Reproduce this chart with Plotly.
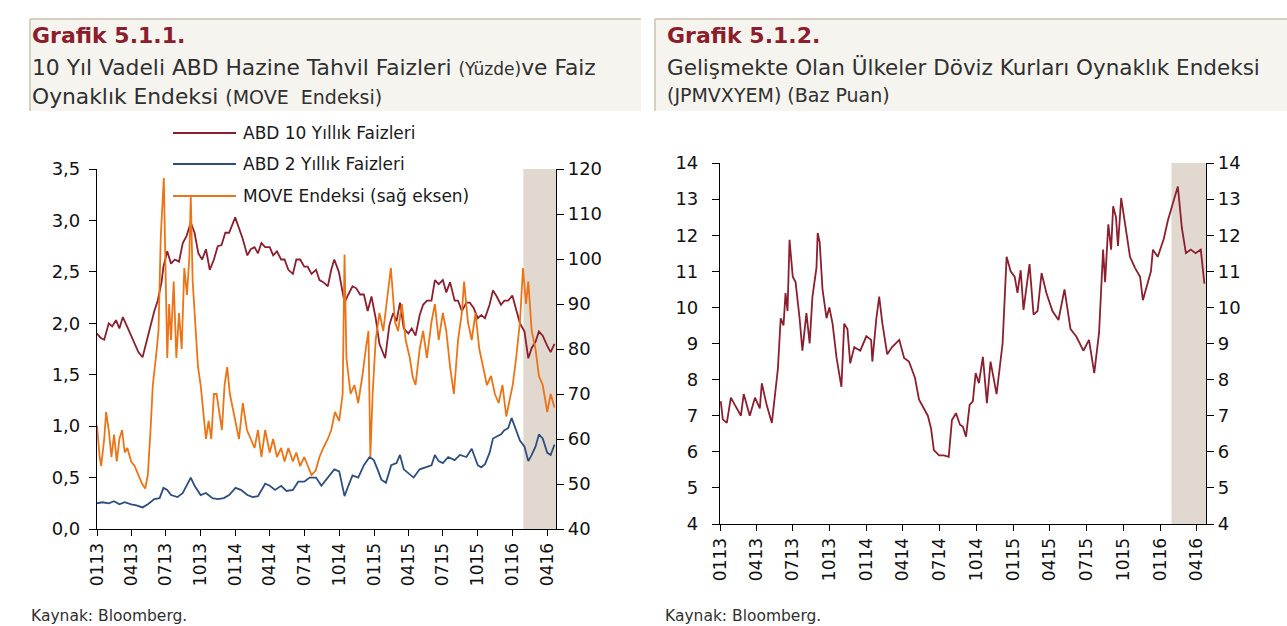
import plotly.graph_objects as go

# ---------------- DATA ----------------
dates_10y = ["2013-01-01","2013-01-10","2013-01-20","2013-02-01","2013-02-10","2013-02-20","2013-03-01","2013-03-10","2013-03-20",
             "2013-04-01","2013-04-10","2013-04-20","2013-05-01","2013-05-10","2013-05-20","2013-06-01","2013-06-10","2013-06-20",
             "2013-06-25","2013-07-05","2013-07-15","2013-07-25","2013-08-05","2013-08-15","2013-08-25","2013-09-05","2013-09-15",
             "2013-09-25","2013-10-05","2013-10-15","2013-10-25","2013-11-05","2013-11-15","2013-11-25","2013-12-05","2013-12-15",
             "2013-12-31","2014-01-10","2014-01-20","2014-02-01","2014-02-10","2014-02-20","2014-03-01","2014-03-10","2014-03-20",
             "2014-04-01","2014-04-10","2014-04-20","2014-05-01","2014-05-10","2014-05-20","2014-06-01","2014-06-10","2014-06-20",
             "2014-07-01","2014-07-10","2014-07-20","2014-08-01","2014-08-10","2014-08-20","2014-09-01","2014-09-10","2014-09-18",
             "2014-09-30","2014-10-10","2014-10-15","2014-10-25","2014-11-05","2014-11-15","2014-11-25","2014-12-05","2014-12-15",
             "2014-12-25","2015-01-05","2015-01-15","2015-01-30","2015-02-10","2015-02-20","2015-03-01","2015-03-10","2015-03-20",
             "2015-04-01","2015-04-10","2015-04-20","2015-05-01","2015-05-10","2015-05-20","2015-06-01","2015-06-10","2015-06-20",
             "2015-07-01","2015-07-10","2015-07-20","2015-08-01","2015-08-10","2015-08-20","2015-09-01","2015-09-10","2015-09-20",
             "2015-10-01","2015-10-10","2015-10-20","2015-11-01","2015-11-10","2015-11-20","2015-12-01","2015-12-10","2015-12-20",
             "2015-12-31","2016-01-10","2016-01-20","2016-02-01","2016-02-11","2016-02-20","2016-03-01","2016-03-10","2016-03-20",
             "2016-04-01","2016-04-10","2016-04-20"]
us10y = [1.90,1.86,1.84,2.00,1.97,2.03,1.95,2.06,1.98,
         1.88,1.80,1.72,1.67,1.80,1.95,2.12,2.22,2.40,
         2.55,2.70,2.58,2.62,2.60,2.78,2.85,2.98,2.88,
         2.68,2.62,2.72,2.52,2.62,2.75,2.76,2.88,2.88,
         3.03,2.92,2.82,2.66,2.72,2.74,2.68,2.78,2.74,
         2.74,2.66,2.70,2.62,2.62,2.52,2.48,2.62,2.62,
         2.55,2.55,2.48,2.52,2.42,2.40,2.36,2.52,2.62,
         2.50,2.32,2.20,2.28,2.36,2.34,2.28,2.28,2.12,
         2.26,2.05,1.80,1.66,1.98,2.10,2.02,2.20,1.95,
         1.90,1.95,1.88,2.08,2.18,2.22,2.22,2.42,2.38,
         2.42,2.30,2.40,2.22,2.22,2.12,2.20,2.20,2.15,
         2.05,2.08,2.05,2.18,2.32,2.26,2.18,2.22,2.22,
         2.27,2.12,2.00,1.92,1.66,1.76,1.82,1.92,1.88,
         1.78,1.72,1.80]

dates_2y = ["2013-01-01","2013-01-15","2013-02-01","2013-02-15","2013-03-01","2013-03-15","2013-04-01","2013-04-15","2013-05-01",
            "2013-05-15","2013-06-01","2013-06-15","2013-06-25","2013-07-05","2013-07-15","2013-08-01","2013-08-15","2013-09-05",
            "2013-09-15","2013-10-01","2013-10-15","2013-11-01","2013-11-15","2013-12-01","2013-12-15","2014-01-01","2014-01-15",
            "2014-02-01","2014-02-15","2014-03-01","2014-03-20","2014-04-01","2014-04-15","2014-05-01","2014-05-15","2014-06-01",
            "2014-06-15","2014-07-01","2014-07-15","2014-08-01","2014-08-15","2014-09-01","2014-09-18","2014-10-01","2014-10-15",
            "2014-10-25","2014-11-05","2014-11-20","2014-12-05","2014-12-20","2014-12-31","2015-01-10","2015-01-20","2015-02-01",
            "2015-02-15","2015-03-01","2015-03-10","2015-03-20","2015-04-01","2015-04-15","2015-05-01","2015-05-15","2015-06-01",
            "2015-06-10","2015-06-20","2015-07-01","2015-07-15","2015-08-01","2015-08-15","2015-09-01","2015-09-15","2015-10-01",
            "2015-10-10","2015-10-20","2015-11-01","2015-11-10","2015-11-20","2015-12-01","2015-12-10","2015-12-20","2015-12-29",
            "2016-01-10","2016-01-20","2016-02-01","2016-02-11","2016-02-20","2016-03-01","2016-03-10","2016-03-20","2016-04-01",
            "2016-04-10","2016-04-20"]
us2y = [0.25,0.26,0.25,0.27,0.24,0.26,0.24,0.23,0.21,
        0.24,0.29,0.30,0.40,0.38,0.33,0.31,0.35,0.50,
        0.42,0.33,0.35,0.30,0.29,0.30,0.33,0.40,0.38,
        0.33,0.31,0.32,0.44,0.42,0.38,0.42,0.37,0.38,
        0.46,0.46,0.50,0.50,0.42,0.50,0.58,0.56,0.32,
        0.42,0.52,0.50,0.62,0.70,0.67,0.58,0.48,0.45,
        0.62,0.64,0.72,0.58,0.54,0.50,0.58,0.60,0.62,
        0.72,0.66,0.64,0.70,0.67,0.72,0.70,0.78,0.62,
        0.60,0.63,0.74,0.88,0.90,0.92,0.96,0.98,1.08,
        0.95,0.86,0.80,0.66,0.72,0.80,0.92,0.88,0.74,
        0.72,0.82]

dates_move = ["2013-01-01","2013-01-08","2013-01-12","2013-01-20","2013-01-25","2013-02-01","2013-02-08","2013-02-15","2013-02-22",
              "2013-03-01","2013-03-08","2013-03-15","2013-03-22","2013-04-01","2013-04-10","2013-04-20","2013-04-30","2013-05-08",
              "2013-05-15","2013-05-22","2013-05-28","2013-06-05","2013-06-12","2013-06-18","2013-06-22","2013-06-26","2013-06-30",
              "2013-07-05","2013-07-10","2013-07-15","2013-07-22","2013-07-29","2013-08-05","2013-08-12","2013-08-19","2013-08-26",
              "2013-09-01","2013-09-05","2013-09-10","2013-09-17","2013-09-24","2013-10-01","2013-10-08","2013-10-15","2013-10-22",
              "2013-10-29","2013-11-05","2013-11-12","2013-11-19","2013-11-26","2013-12-03","2013-12-10","2013-12-17","2013-12-24",
              "2014-01-01","2014-01-10","2014-01-20","2014-01-31","2014-02-10","2014-02-20","2014-03-01","2014-03-10","2014-03-20",
              "2014-04-01","2014-04-10","2014-04-20","2014-05-01","2014-05-10","2014-05-20","2014-06-01","2014-06-10","2014-06-20",
              "2014-07-01","2014-07-10","2014-07-20","2014-07-31","2014-08-10","2014-08-20","2014-09-01","2014-09-10","2014-09-20",
              "2014-10-01","2014-10-10","2014-10-15","2014-10-20","2014-10-31","2014-11-10","2014-11-20","2014-12-01","2014-12-10",
              "2014-12-17","2014-12-22","2014-12-28","2015-01-05","2015-01-15","2015-01-25","2015-02-05","2015-02-14","2015-02-25",
              "2015-03-05","2015-03-15","2015-03-25","2015-04-05","2015-04-12","2015-04-20","2015-05-01","2015-05-10","2015-05-20",
              "2015-06-01","2015-06-10","2015-06-20","2015-07-01","2015-07-10","2015-07-20","2015-07-30","2015-08-10","2015-08-20",
              "2015-08-26","2015-09-05","2015-09-15","2015-09-25","2015-10-05","2015-10-15","2015-10-25","2015-11-05","2015-11-15",
              "2015-11-25","2015-12-05","2015-12-15","2015-12-22","2016-01-01","2016-01-10","2016-01-20","2016-01-28","2016-02-05",
              "2016-02-11","2016-02-20","2016-03-01","2016-03-10","2016-03-20","2016-04-01","2016-04-10","2016-04-20"]
move = [63,56,54,60,66,62,56,61,55,
        60,62,57,58,55,54,52,50,49,
        52,62,72,78,84,105,111,118,100,
        78,90,82,95,78,88,80,98,92,
        100,114,95,85,76,72,66,60,64,
        60,70,70,66,62,72,76,70,67,
        64,60,68,62,60,58,62,56,62,
        57,60,56,58,55,58,55,57,54,
        56,54,52,53,56,58,60,62,66,
        64,70,101,78,70,72,68,74,80,
        84,56,70,82,88,84,92,98,86,
        84,90,82,78,74,72,80,84,78,
        86,90,82,88,84,76,70,82,88,
        95,86,82,88,80,76,72,74,70,
        68,72,65,68,72,78,86,98,90,
        95,84,80,74,72,66,70,67]

dates_em = ["2013-01-03","2013-01-08","2013-01-18","2013-01-28","2013-02-07","2013-02-22","2013-03-01","2013-03-16","2013-03-29",
            "2013-04-10","2013-04-15","2013-04-27","2013-05-10","2013-05-20","2013-05-25","2013-06-01","2013-06-08","2013-06-13",
            "2013-06-18","2013-06-23","2013-07-01","2013-07-08","2013-07-18","2013-07-25","2013-08-04","2013-08-12","2013-08-19",
            "2013-08-29","2013-09-01","2013-09-06","2013-09-13","2013-09-23","2013-09-30","2013-10-08","2013-10-18","2013-10-30",
            "2013-11-06","2013-11-14","2013-11-21","2013-12-01","2013-12-16","2013-12-31","2014-01-12","2014-01-15","2014-01-25",
            "2014-02-01","2014-02-09","2014-02-21","2014-03-05","2014-03-23","2014-04-04","2014-04-16","2014-05-01","2014-05-11",
            "2014-05-21","2014-06-02","2014-06-10","2014-06-17","2014-06-30","2014-07-12","2014-07-24","2014-08-01","2014-08-11",
            "2014-08-21","2014-08-28","2014-09-05","2014-09-14","2014-09-22","2014-09-29","2014-10-07","2014-10-17","2014-10-27",
            "2014-11-05","2014-11-20","2014-12-05","2014-12-15","2014-12-25","2015-01-04","2015-01-11","2015-01-19","2015-01-26",
            "2015-02-10","2015-02-20","2015-03-02","2015-03-12","2015-03-24","2015-04-08","2015-04-23","2015-05-08","2015-05-23",
            "2015-06-06","2015-06-24","2015-07-08","2015-07-21","2015-08-02","2015-08-12","2015-08-17","2015-08-25","2015-09-01",
            "2015-09-06","2015-09-13","2015-09-18","2015-09-26","2015-10-06","2015-10-18","2015-10-30","2015-11-12","2015-11-19",
            "2015-11-29","2015-12-09","2015-12-14","2015-12-26","2016-01-10","2016-01-20","2016-02-02","2016-02-14","2016-02-24",
            "2016-03-05","2016-03-17","2016-03-29","2016-04-11","2016-04-20"]
jpmvxyem = [7.4,6.9,6.8,7.5,7.3,7.0,7.6,7.0,7.5,
            7.2,7.9,7.3,6.8,7.9,8.3,9.7,9.5,10.4,
            9.9,11.87,10.85,10.7,9.7,8.8,9.84,9.0,10.3,
            11.1,12.06,11.8,10.5,9.7,10.0,9.55,8.6,7.8,
            9.55,9.4,8.45,8.9,8.8,9.2,9.1,8.5,9.7,
            10.3,9.55,8.7,8.9,9.1,8.6,8.5,8.05,7.45,
            7.25,7.0,6.65,6.05,5.9,5.9,5.86,6.88,7.07,
            6.75,6.7,6.42,7.3,7.4,8.18,7.9,8.63,7.35,
            8.5,7.6,9.0,11.4,11.0,10.85,10.4,11.03,9.93,
            11.2,9.8,9.9,10.95,10.4,9.9,9.65,10.5,9.4,
            9.2,8.8,9.1,8.18,9.3,11.6,10.7,12.3,11.6,
            12.8,12.5,11.7,13.03,12.25,11.4,11.1,10.85,10.2,
            10.6,11.0,11.6,11.4,11.9,12.4,12.9,13.35,12.2,
            11.5,11.6,11.5,11.6,10.66]

tick_vals = ["2013-01-01","2013-04-01","2013-07-01","2013-10-01","2014-01-01","2014-04-01","2014-07-01",
             "2014-10-01","2015-01-01","2015-04-01","2015-07-01","2015-10-01","2016-01-01","2016-04-01"]
tick_text = ["0113","0413","0713","1013","0114","0414","0714","1014","0115","0415","0715","1015","0116","0416"]
x_range = ["2013-01-01", "2016-04-24"]
band = ["2016-01-29", "2016-04-24"]

legend_names = ["ABD 10 Yıllık Faizleri", "ABD 2 Yıllık Faizleri", "MOVE Endeksi (sağ eksen)"]

# ---------------- STYLE ----------------
W, H = 1287, 626
C10 = "#8C1F2E"
C2 = "#2D4E7E"
CMOVE = "#EC7417"
CEM = "#8C1F2E"
BAND = "#E1D9CF"
HEAD = "#F6F4EF"
TITLE = "#8C1D2B"
TXT = "#303030"
TICK = "#111111"
FONT = "DejaVu Sans"


def px(x):
    return x / W


def py(y):
    return 1 - y / H


fig = go.Figure()
fig.add_trace(go.Scatter(x=dates_10y, y=us10y, mode="lines", line=dict(color=C10, width=1.8),
                         name=legend_names[0], xaxis="x", yaxis="y", showlegend=False))
fig.add_trace(go.Scatter(x=dates_2y, y=us2y, mode="lines", line=dict(color=C2, width=1.8),
                         name=legend_names[1], xaxis="x", yaxis="y", showlegend=False))
fig.add_trace(go.Scatter(x=dates_move, y=move, mode="lines", line=dict(color=CMOVE, width=1.8),
                         name=legend_names[2], xaxis="x", yaxis="y2", showlegend=False))
fig.add_trace(go.Scatter(x=dates_em, y=jpmvxyem, mode="lines", line=dict(color=CEM, width=1.8),
                         name="JPMVXYEM", xaxis="x2", yaxis="y3", showlegend=False))
fig.add_trace(go.Scatter(x=dates_em, y=jpmvxyem, mode="lines", line=dict(color=CEM, width=0),
                         opacity=0, hoverinfo="skip", xaxis="x2", yaxis="y4", showlegend=False))

xfont = dict(family=FONT, size=17, color=TICK)
yfont = dict(family=FONT, size=18, color=TICK)
common_x = dict(type="date", range=x_range, tickmode="array", tickvals=tick_vals, ticktext=tick_text,
                tickangle=-90, ticks="outside", ticklen=6, tickwidth=1, tickcolor="#000",
                showline=True, linecolor="#000", linewidth=1.2, showgrid=False, zeroline=False,
                tickfont=xfont, fixedrange=True)
common_y = dict(ticks="outside", ticklen=7, tickwidth=1, tickcolor="#000", showline=True,
                linecolor="#000", linewidth=1.2, showgrid=False, zeroline=False, tickfont=yfont)

fig.update_layout(
    width=W, height=H,
    margin=dict(l=0, r=0, t=0, b=0, autoexpand=False),
    paper_bgcolor="white", plot_bgcolor="rgba(0,0,0,0)",
    separators=",.",
    showlegend=False,
    xaxis=dict(domain=[px(97), px(556)], anchor="y", **common_x),
    yaxis=dict(domain=[py(529), py(169)], anchor="x", range=[0, 3.5], dtick=0.5, tick0=0,
               tickformat=".1f", side="left", ticklabelstandoff=5, **common_y),
    yaxis2=dict(overlaying="y", anchor="x", side="right", range=[40, 120], dtick=10, tick0=40, **common_y),
    xaxis2=dict(domain=[px(720), px(1206)], anchor="y3", **common_x),
    yaxis3=dict(domain=[py(524), py(163)], anchor="x2", range=[4, 14], dtick=1, tick0=4, side="left",
                ticklabelstandoff=10, **common_y),
    yaxis4=dict(overlaying="y3", anchor="x2", side="right", range=[4, 14], dtick=1, tick0=4, **common_y),
)

shapes = []
for x0, x1 in [(30, 641), (655, 1287)]:
    shapes.append(dict(type="rect", xref="paper", yref="paper", x0=px(x0), x1=px(x1), y0=py(111), y1=py(19),
                       fillcolor=HEAD, line=dict(width=0), layer="below"))
    shapes.append(dict(type="line", xref="paper", yref="paper", x0=px(x0), x1=px(x1), y0=py(19), y1=py(19),
                       line=dict(color="#D6CEBE", width=2)))
    shapes.append(dict(type="line", xref="paper", yref="paper", x0=px(x0), x1=px(x0), y0=py(19), y1=py(111),
                       line=dict(color="#D6CEBE", width=2)))
shapes.append(dict(type="rect", xref="x", yref="y domain", x0=band[0], x1=band[1], y0=0, y1=1,
                   fillcolor=BAND, line=dict(width=0), layer="below"))
shapes.append(dict(type="rect", xref="x2", yref="y3 domain", x0=band[0], x1=band[1], y0=0, y1=1,
                   fillcolor=BAND, line=dict(width=0), layer="below"))
leg_y = [133, 164, 196]
for yy, col in zip(leg_y, [C10, C2, CMOVE]):
    shapes.append(dict(type="line", xref="paper", yref="paper", x0=px(173), x1=px(236), y0=py(yy), y1=py(yy),
                       line=dict(color=col, width=1.8)))

annotations = []
for yy, name in zip(leg_y, legend_names):
    annotations.append(dict(xref="paper", yref="paper", x=px(241), y=py(yy), xanchor="left", yanchor="middle",
                            text=name, showarrow=False, font=dict(family=FONT, size=17, color="#1a1a1a")))

TF = "DejaVu Sans"
head = [
    dict(x=px(30), y=py(35), text="<b>Grafik 5.1.1.</b>", font=dict(family=TF, size=22, color=TITLE)),
    dict(x=px(30), y=py(68),
         text="10 Yıl Vadeli ABD Hazine Tahvil Faizleri <span style='font-size:17px'>(Yüzde)</span>ve Faiz",
         font=dict(family=TF, size=21.8, color=TXT)),
    dict(x=px(30), y=py(96), text="Oynaklık Endeksi <span style='font-size:19px'>(MOVE  Endeksi)</span>",
         font=dict(family=TF, size=21.8, color=TXT)),
    dict(x=px(665), y=py(35), text="<b>Grafik 5.1.2.</b>", font=dict(family=TF, size=22, color=TITLE)),
    dict(x=px(665), y=py(68), text="Gelişmekte Olan Ülkeler Döviz Kurları Oynaklık Endeksi",
         font=dict(family=TF, size=21.5, color=TXT)),
    dict(x=px(665), y=py(95), text="(JPMVXYEM) (Baz Puan)", font=dict(family=TF, size=19, color=TXT)),
    dict(x=px(29), y=py(616), text="Kaynak: Bloomberg.", font=dict(family=TF, size=15.5, color=TXT)),
    dict(x=px(663), y=py(616), text="Kaynak: Bloomberg.", font=dict(family=TF, size=15.5, color=TXT)),
]
for a in head:
    a.update(xref="paper", yref="paper", xanchor="left", yanchor="middle", showarrow=False)
annotations += head

fig.update_layout(shapes=shapes, annotations=annotations)
fig.write_html("out.html", config={"displayModeBar": False},
               post_script=("document.documentElement.style.margin='0';document.body.style.margin='0';"
                            "document.body.style.overflow='hidden';"
                            "var gd=document.getElementById('{plot_id}');gd.style.position='fixed';"
                            "gd.style.left='0px';gd.style.top='0px';"))
